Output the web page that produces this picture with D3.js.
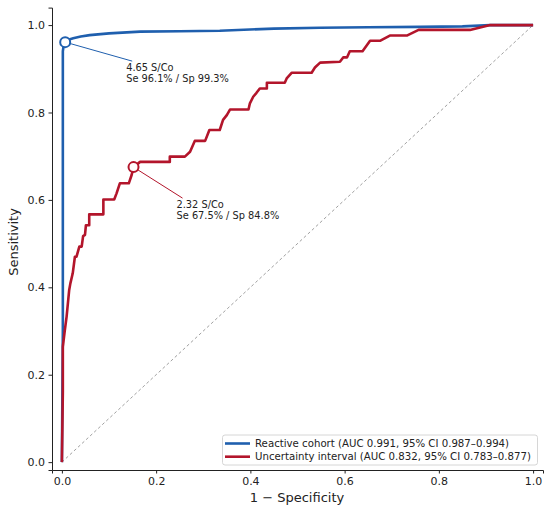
<!DOCTYPE html>
<html>
<head>
<meta charset="utf-8">
<script src="https://cdn.jsdelivr.net/npm/d3@7"></script>
<style>
  body { margin: 0; background: #fff; }
  svg { font-family: "DejaVu Sans", sans-serif; }
</style>
</head>
<body>
<svg id="svg" width="550" height="514"></svg>
<script>
// ROC curves (x = 1 - specificity, y = sensitivity)
const reactiveX = [0, 0.002, 0.002, 0.004, 0.007, 0.012, 0.024, 0.04, 0.059, 0.1, 0.166, 0.25, 0.335, 0.45, 0.548, 0.65, 0.76, 0.85, 0.909, 1.0];
const reactiveY = [0, 0.3, 0.94, 0.955, 0.961, 0.966, 0.97, 0.974, 0.977, 0.981, 0.985, 0.986, 0.987, 0.992, 0.994, 0.995, 0.996, 0.997, 1.0, 1.0];

const uncertX = [0, 0.002, 0.002, 0.006, 0.010, 0.0155, 0.018, 0.023, 0.0276, 0.031, 0.037, 0.042, 0.045, 0.049, 0.051, 0.058, 0.058, 0.088, 0.088, 0.111, 0.116, 0.123, 0.142, 0.148, 0.152, 0.166, 0.229, 0.229, 0.261, 0.272, 0.282, 0.304, 0.313, 0.335, 0.342, 0.35, 0.357, 0.396, 0.399, 0.406, 0.413, 0.42, 0.435, 0.435, 0.473, 0.477, 0.488, 0.53, 0.537, 0.548, 0.59, 0.597, 0.605, 0.611, 0.638, 0.654, 0.675, 0.696, 0.732, 0.757, 0.866, 0.909, 1.0];
const uncertY = [0, 0.16, 0.264, 0.3, 0.333, 0.394, 0.409, 0.432, 0.47, 0.47, 0.493, 0.493, 0.517, 0.52, 0.542, 0.542, 0.567, 0.567, 0.601, 0.601, 0.615, 0.638, 0.638, 0.657, 0.675, 0.687, 0.687, 0.699, 0.699, 0.71, 0.735, 0.735, 0.76, 0.76, 0.783, 0.794, 0.807, 0.807, 0.821, 0.836, 0.845, 0.855, 0.855, 0.868, 0.868, 0.878, 0.891, 0.891, 0.903, 0.914, 0.916, 0.926, 0.926, 0.94, 0.94, 0.964, 0.964, 0.976, 0.976, 0.989, 0.989, 1.0, 1.0];

const seriesNames = ['Reactive cohort (AUC 0.991, 95% CI 0.987\u20130.994)', 'Uncertainty interval (AUC 0.832, 95% CI 0.783\u20130.877)'];
const seriesColors = ['#1f5fae', '#b3152b'];
const cutX = [0.007, 0.152];
const cutY = [0.961, 0.675];
const cutLabels = [['4.65 S/Co', 'Se 96.1% / Sp 99.3%'], ['2.32 S/Co', 'Se 67.5% / Sp 84.8%']];
const ticks = [0, 0.2, 0.4, 0.6, 0.8, 1.0];

const svg = d3.select('svg');

const x = d3.scaleLinear().domain([-0.021, 1.021]).range([52, 543]);
const y = d3.scaleLinear().domain([-0.018, 1.04]).range([470, 7.6]);

// diagonal reference
svg.append('line')
	.attr('x1', x(0)).attr('y1', y(0))
	.attr('x2', x(1)).attr('y2', y(1))
	.attr('stroke', '#888').attr('stroke-width', 0.8)
	.attr('stroke-dasharray', '3,2.5');

const line = d3.line().x((d) => x(d[0])).y((d) => y(d[1]));
const curves = [d3.zip(reactiveX, reactiveY), d3.zip(uncertX, uncertY)];

curves.forEach((pts, i) => {
	svg.append('path')
		.attr('d', line(pts))
		.attr('fill', 'none')
		.attr('stroke', seriesColors[i])
		.attr('stroke-width', 2.6)
		.attr('stroke-linejoin', 'round');
});

// cutoff markers + labels
const offsets = [[61, 25], [43, 37]];
cutX.forEach((cx, i) => {
	const px = x(cx), py = y(cutY[i]);
	const tx = px + offsets[i][0], ty = py + offsets[i][1];
	svg.append('line')
		.attr('x1', px).attr('y1', py)
		.attr('x2', tx + 6).attr('y2', ty - 6)
		.attr('stroke', seriesColors[i]).attr('stroke-width', 1);
	svg.append('circle')
		.attr('cx', px).attr('cy', py).attr('r', 5)
		.attr('fill', '#fff')
		.attr('stroke', seriesColors[i]).attr('stroke-width', 2);
	const t = svg.append('text')
		.attr('x', tx).attr('y', ty + 4)
		.attr('font-size', 9.8).attr('fill', '#222');
	cutLabels[i].forEach((s, j) => {
		t.append('tspan').attr('x', tx).attr('dy', j ? 11 : 0).text(s);
	});
});

// axes
const xAxis = svg.append('g')
	.attr('transform', 'translate(0,470)')
	.call(d3.axisBottom(x).tickValues(ticks).tickFormat(d3.format('.1f')).tickSizeOuter(0).tickSize(3.5).tickPadding(3.5));
const yAxis = svg.append('g')
	.attr('transform', 'translate(52,0)')
	.call(d3.axisLeft(y).tickValues(ticks).tickFormat(d3.format('.1f')).tickSizeOuter(0).tickSize(3.5).tickPadding(3.5));
[xAxis, yAxis].forEach((g) => {
	g.selectAll('text').attr('font-size', 11).attr('fill', '#222').attr('font-family', 'DejaVu Sans');
	g.selectAll('line, path').attr('stroke', '#222').attr('stroke-width', 1);
});

svg.append('text')
	.attr('x', 297).attr('y', 502)
	.attr('text-anchor', 'middle').attr('font-size', 13).attr('fill', '#222')
	.text('1 \u2212 Specificity');
svg.append('text')
	.attr('transform', 'translate(18,242) rotate(-90)')
	.attr('text-anchor', 'middle').attr('font-size', 13).attr('fill', '#222')
	.text('Sensitivity');

// legend
const lg = svg.append('g');
lg.append('rect')
	.attr('x', 222.5).attr('y', 435).attr('width', 315).attr('height', 30)
	.attr('rx', 2.5).attr('fill', '#fff').attr('fill-opacity', 0.85)
	.attr('stroke', '#ccc').attr('stroke-width', 0.8);
seriesNames.forEach((name, i) => {
	const ly = 443.5 + i * 13.2;
	lg.append('line')
		.attr('x1', 225).attr('x2', 250).attr('y1', ly).attr('y2', ly)
		.attr('stroke', seriesColors[i]).attr('stroke-width', 2.6);
	lg.append('text')
		.attr('x', 255).attr('y', ly + 3.6)
		.attr('font-size', 10.2).attr('fill', '#222')
		.text(name);
});
</script>
</body>
</html>
